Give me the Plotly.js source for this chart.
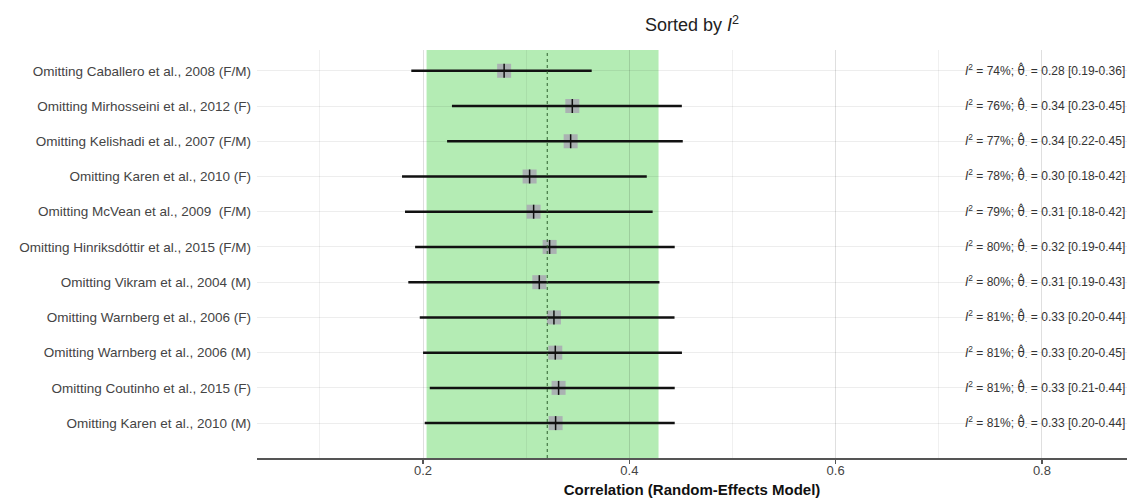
<!DOCTYPE html>
<html>
<head>
<meta charset="utf-8">
<script src="https://cdn.plot.ly/plotly-3.0.1.min.js"></script>
<style>html,body{margin:0;padding:0;background:#fff;}#chart{width:1141px;height:502px;}</style>
</head>
<body>
<div id="chart"></div>
<script>
const studies = [
  "Omitting Caballero et al., 2008 (F/M)",
  "Omitting Mirhosseini et al., 2012 (F)",
  "Omitting Kelishadi et al., 2007 (F/M)",
  "Omitting Karen et al., 2010 (F)",
  "Omitting McVean et al., 2009  (F/M)",
  "Omitting Hinriksdóttir et al., 2015 (F/M)",
  "Omitting Vikram et al., 2004 (M)",
  "Omitting Warnberg et al., 2006 (F)",
  "Omitting Warnberg et al., 2006 (M)",
  "Omitting Coutinho et al., 2015 (F)",
  "Omitting Karen et al., 2010 (M)"
];
const estimates = [0.2786, 0.3447, 0.3431, 0.3033, 0.3072, 0.3227, 0.3127, 0.3269, 0.3282, 0.3314, 0.3285];
const lower     = [0.1886, 0.2280, 0.2233, 0.1796, 0.1825, 0.1923, 0.1857, 0.1968, 0.2000, 0.2065, 0.2016];
const upper     = [0.3635, 0.4509, 0.4518, 0.4169, 0.4226, 0.4440, 0.4292, 0.4438, 0.4510, 0.4440, 0.4440];
const i2        = [74, 76, 77, 78, 79, 80, 80, 81, 81, 81, 81];
const pooled = 0.3204;
const predInterval = [0.2034, 0.4283];
const xTicks = [0.2, 0.4, 0.6, 0.8];

const rows = studies.map((s, i) => i + 1);

const ciX = [], ciY = [];
rows.forEach((r, i) => { ciX.push(lower[i], upper[i], null); ciY.push(r, r, null); });

const traces = [
  {type: 'scatter', mode: 'markers', x: estimates, y: rows, hoverinfo: 'skip',
   marker: {symbol: 'square', size: 14, color: 'rgba(168,164,178,0.8)', line: {width: 0}}},
  {type: 'scatter', mode: 'lines', x: ciX, y: ciY, hoverinfo: 'skip',
   line: {color: '#111', width: 2.5}},
  {type: 'scatter', mode: 'markers', x: estimates, y: rows, hoverinfo: 'skip',
   marker: {symbol: 'line-ns', size: 10, color: '#111', line: {color: '#111', width: 1.5}}}
];

const thetaHat = '<span style="font-family:DejaVu Sans">θ\u0302</span>';
const annotations = rows.map((r, i) => ({
  xref: 'paper', yref: 'y', x: 1, y: r, xanchor: 'right', yanchor: 'middle', showarrow: false,
  text: '<i>I</i><sup>2</sup> = ' + i2[i] + '%; ' + thetaHat + '<sub>·</sub> = ' + estimates[i].toFixed(2) +
        ' [' + lower[i].toFixed(2) + '-' + upper[i].toFixed(2) + ']',
  font: {family: 'Liberation Sans, Arial, sans-serif', size: 12, color: '#333'}
}));

const layout = {
  width: 1141, height: 502,
  margin: {l: 257, r: 14, t: 50, b: 44},
  paper_bgcolor: '#fff', plot_bgcolor: '#fff',
  showlegend: false,
  font: {family: 'Liberation Sans, Arial, sans-serif', color: '#444'},
  title: {text: 'Sorted by <i>I</i><sup>2</sup>', x: 0.5, xref: 'paper', xanchor: 'center',
          y: 1 - 25/502, yref: 'container', yanchor: 'middle',
          font: {size: 18, color: '#222'}},
  xaxis: {
    range: [0.039, 0.8825], tickvals: xTicks, ticktext: xTicks.map(v => v.toFixed(1)),
    showgrid: true, gridcolor: 'rgba(0,0,0,0.07)', gridwidth: 1,
    minor: {dtick: 0.1, tick0: 0, showgrid: true, gridcolor: 'rgba(0,0,0,0.06)', gridwidth: 1},
    zeroline: false, showline: true, linecolor: '#555', linewidth: 2,
    ticks: 'outside', ticklen: 4, tickcolor: '#555', tickwidth: 1.5,
    ticklabelstandoff: -5,
    tickfont: {size: 13, color: '#444'},
    title: {text: '<b>Correlation (Random-Effects Model)</b>', standoff: 8,
            font: {size: 15, color: '#111'}}
  },
  yaxis: {
    range: [11.99, 0.41], tickvals: rows, ticktext: studies,
    showgrid: true, gridcolor: 'rgba(0,0,0,0.07)', gridwidth: 1,
    zeroline: false, showline: false, ticks: '', ticklabelstandoff: 5,
    tickfont: {size: 13.5, color: '#444'}
  },
  shapes: [
    {type: 'rect', xref: 'x', yref: 'paper', x0: predInterval[0], x1: predInterval[1], y0: 0, y1: 1,
     fillcolor: 'rgb(180,236,180)', line: {width: 0}, layer: 'below'},
    {type: 'line', xref: 'x', yref: 'paper', x0: pooled, x1: pooled, y0: 0, y1: 1,
     line: {color: '#2f5f2f', width: 1, dash: 'dot'}, layer: 'above'}
  ],
  annotations: annotations
};

Plotly.newPlot('chart', traces, layout, {displayModeBar: false, staticPlot: true});
</script>
</body>
</html>
